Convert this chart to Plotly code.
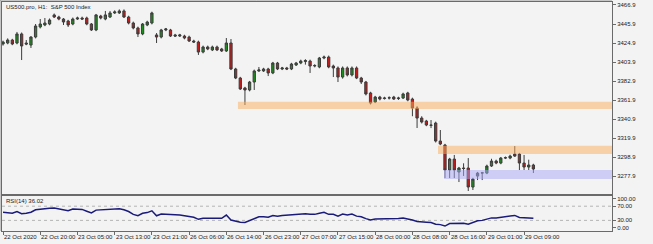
import plotly.graph_objects as go

title_text = "US500.pro, H1:  S&P 500 Index"
rsi_label = "RSI(14) 36.02"

opens = [3423.8, 3424.9, 3428.2, 3424.9, 3434.9, 3424.9, 3422.7, 3431.5, 3442.6, 3444.8,
         3445.9, 3455.9, 3453.6, 3451.4, 3449.2, 3445.9, 3451.4, 3452.5, 3452.5, 3445.9,
         3439.3, 3454.7, 3451.4, 3453.6, 3458.1, 3458.1, 3460.3, 3453.6, 3447.0, 3441.5,
         3434.9, 3444.8, 3447.0, 3433.8, 3431.5, 3439.3, 3439.3, 3433.8, 3432.6, 3432.6,
         3431.5, 3427.1, 3426.0, 3414.9, 3420.5, 3417.2, 3420.5, 3418.3, 3416.1, 3424.9,
         3396.2, 3386.2, 3375.2, 3373.0, 3381.8, 3394.0, 3394.0, 3396.2, 3391.8, 3402.8,
         3396.2, 3397.3, 3396.2, 3400.6, 3402.8, 3404.4, 3405.0, 3399.5, 3398.4, 3408.3,
         3409.4, 3399.5, 3397.3, 3387.3, 3397.3, 3389.6, 3397.3, 3386.2, 3381.8, 3369.7,
         3359.7, 3365.2, 3363.5, 3364.1, 3365.2, 3363.5, 3364.1, 3369.7, 3363.0, 3353.1,
         3342.0, 3338.7, 3334.3, 3336.5, 3316.6, 3312.2, 3284.6, 3296.7, 3282.4, 3286.8,
         3286.8, 3265.8, 3277.9, 3281.2, 3281.2, 3289.0, 3294.5, 3292.3, 3297.8, 3297.8,
         3302.2, 3302.2, 3292.3, 3287.9, 3290.1]
highs = [3427.5, 3430.0, 3429.5, 3437.1, 3436.5, 3428.2, 3432.5, 3445.9, 3451.4, 3452.5,
         3452.0, 3457.5, 3455.0, 3452.5, 3450.5, 3453.0, 3454.0, 3454.0, 3454.0, 3447.0,
         3457.0, 3456.0, 3460.3, 3460.3, 3461.0, 3462.0, 3462.0, 3455.0, 3448.5, 3443.0,
         3447.0, 3449.5, 3459.5, 3435.9, 3440.5, 3441.5, 3440.5, 3435.0, 3435.0, 3434.0,
         3433.0, 3428.5, 3427.5, 3422.0, 3422.0, 3422.0, 3422.0, 3419.5, 3430.4, 3429.3,
         3397.5, 3387.5, 3376.5, 3383.0, 3395.5, 3398.4, 3397.5, 3397.5, 3404.0, 3404.0,
         3398.5, 3398.5, 3403.0, 3404.0, 3406.5, 3407.0, 3406.5, 3401.5, 3409.5, 3411.0,
         3411.0, 3401.0, 3399.0, 3399.0, 3399.0, 3399.0, 3399.0, 3387.5, 3383.0, 3371.0,
         3366.5, 3366.5, 3365.5, 3366.0, 3366.5, 3365.5, 3370.0, 3371.0, 3364.5, 3355.0,
         3344.0, 3340.0, 3339.8, 3338.0, 3328.8, 3313.5, 3298.0, 3301.2, 3288.0, 3292.0,
         3297.8, 3276.0, 3282.5, 3282.5, 3290.5, 3297.0, 3296.0, 3299.0, 3299.5, 3301.5,
         3311.1, 3303.5, 3301.2, 3296.0, 3291.5]
lows = [3422.0, 3423.5, 3422.5, 3423.5, 3406.1, 3422.5, 3419.4, 3430.0, 3441.0, 3443.5,
        3444.5, 3452.5, 3450.0, 3444.8, 3442.6, 3444.5, 3450.5, 3450.5, 3444.5, 3438.2,
        3438.0, 3451.0, 3450.0, 3452.5, 3457.0, 3457.0, 3452.5, 3445.5, 3440.0, 3431.5,
        3433.5, 3443.5, 3445.5, 3424.9, 3430.0, 3438.0, 3431.5, 3431.5, 3431.5, 3429.0,
        3426.0, 3425.0, 3411.7, 3413.5, 3417.0, 3416.0, 3416.0, 3415.0, 3415.0, 3395.0,
        3385.0, 3373.0, 3356.4, 3371.5, 3373.0, 3393.0, 3393.0, 3388.4, 3390.5, 3395.0,
        3395.0, 3395.0, 3395.0, 3399.5, 3401.5, 3401.0, 3391.8, 3398.0, 3397.0, 3407.0,
        3397.0, 3387.3, 3381.8, 3385.5, 3388.0, 3388.0, 3385.0, 3379.6, 3367.0, 3357.0,
        3358.5, 3361.5, 3362.5, 3362.5, 3362.0, 3362.0, 3363.0, 3360.5, 3344.0, 3331.0,
        3336.0, 3333.0, 3330.9, 3315.0, 3312.0, 3275.7, 3275.7, 3275.7, 3271.3, 3278.0,
        3261.4, 3262.5, 3273.5, 3273.5, 3280.0, 3288.0, 3291.0, 3291.0, 3296.7, 3296.5,
        3299.0, 3284.6, 3284.6, 3284.6, 3281.3]
closes = [3426.0, 3428.2, 3423.8, 3434.9, 3421.6, 3423.8, 3431.5, 3443.7, 3445.9, 3447.0,
          3450.3, 3453.6, 3451.4, 3448.1, 3444.8, 3451.4, 3452.5, 3451.4, 3445.9, 3439.3,
          3455.9, 3452.5, 3455.9, 3458.1, 3459.2, 3460.3, 3453.6, 3447.0, 3441.5, 3434.9,
          3445.9, 3448.1, 3458.1, 3431.5, 3439.3, 3440.4, 3432.6, 3432.6, 3433.8, 3430.4,
          3427.1, 3426.0, 3414.9, 3420.5, 3418.3, 3420.5, 3417.2, 3416.1, 3424.9, 3396.2,
          3386.2, 3374.1, 3373.0, 3381.8, 3394.0, 3395.1, 3396.2, 3391.8, 3402.8, 3396.2,
          3397.3, 3396.2, 3401.7, 3402.8, 3405.0, 3405.5, 3399.5, 3400.0, 3408.3, 3409.4,
          3398.4, 3397.3, 3387.3, 3397.3, 3389.6, 3397.3, 3386.2, 3381.8, 3368.6, 3358.6,
          3365.2, 3363.0, 3364.1, 3364.4, 3363.0, 3364.1, 3368.6, 3361.9, 3353.1, 3342.0,
          3337.6, 3334.3, 3334.0, 3316.6, 3313.3, 3284.6, 3296.7, 3284.6, 3286.8, 3286.3,
          3265.8, 3274.6, 3281.2, 3281.5, 3289.0, 3294.5, 3292.3, 3297.8, 3298.2, 3300.0,
          3300.0, 3292.3, 3287.9, 3290.1, 3285.7]
rsi = [53, 52, 50, 55, 49, 50, 53, 60, 62, 63,
       64, 65, 63, 60, 57, 62, 62, 61, 56, 51,
       59, 60, 61, 63, 63, 63, 60, 55, 47, 43,
       50, 52, 57, 43, 48, 48, 46, 46, 45, 43,
       42, 39, 33, 36, 36, 37, 36, 36, 45, 31,
       27, 25, 24, 30, 36, 40, 40, 39, 44, 42,
       44, 45, 46, 47, 48, 49, 47, 47, 50, 53,
       47, 47, 42, 48, 45, 48, 42, 40, 35, 31,
       34, 34, 34, 35, 35, 35, 37, 35, 31, 27,
       25, 25, 24, 19, 18, 14, 21, 21, 22, 22,
       19, 25, 29, 30, 34, 37, 37, 39, 42, 44,
       44, 38, 37, 37, 36.02]

x_tick_idx = [0, 8, 16, 24, 32, 40, 48, 56, 64, 72, 80, 88, 96, 104, 112]
x_tick_labels = ["22 Oct 2020", "22 Oct 20:00", "23 Oct 05:00", "23 Oct 13:00", "23 Oct 21:00",
                 "26 Oct 06:00", "26 Oct 14:00", "26 Oct 23:00", "27 Oct 07:00", "27 Oct 15:00",
                 "28 Oct 00:00", "28 Oct 08:00", "28 Oct 16:00", "29 Oct 01:00", "29 Oct 09:00"]
price_ticks = [3466.9, 3445.9, 3424.9, 3403.9, 3382.9, 3361.9, 3340.9, 3319.9, 3298.9, 3277.9]
rsi_tick_pos = [91, 70, 30, 9]
rsi_tick_labels = ["100.00", "70.00", "30.00", "0.00"]
rsi_levels = [70, 30]

zone_start = [50.5, 93.5, 94.8]
zone_top = [3360.0, 3311.4, 3284.6]
zone_bottom = [3352.0, 3302.2, 3274.6]
zone_color = ["rgba(253,173,93,0.5)", "rgba(253,173,93,0.5)", "rgba(167,167,247,0.5)"]

x_range = [-0.22, 130.9]
price_range = [3258.1, 3470.2]

idx = list(range(len(closes)))
FONT = "Liberation Sans"
BORDER = "#6a6a6a"

fig = go.Figure()
fig.add_trace(go.Candlestick(
    x=idx, open=opens, high=highs, low=lows, close=closes,
    increasing=dict(fillcolor="#1f8c1f", line=dict(color="#3c3c3c", width=1)),
    decreasing=dict(fillcolor="#c01c1c", line=dict(color="#3c3c3c", width=1)),
    whiskerwidth=0, xaxis="x", yaxis="y", showlegend=False))
fig.add_trace(go.Scatter(
    x=idx, y=rsi, mode="lines", line=dict(color="#1a1a7a", width=1.5),
    xaxis="x2", yaxis="y2", showlegend=False))

shapes = []
for s, t, b, c in zip(zone_start, zone_top, zone_bottom, zone_color):
    shapes.append(dict(type="rect", xref="x", yref="y", x0=s, x1=x_range[1], y0=b, y1=t,
                       fillcolor=c, line=dict(width=0), layer="above"))
for lv in rsi_levels:
    shapes.append(dict(type="line", xref="x2 domain", yref="y2", x0=0, x1=1, y0=lv, y1=lv,
                       line=dict(color="#b4b4b4", width=1, dash="dot"), layer="below"))
# outer frame lines
shapes.append(dict(type="line", xref="paper", yref="paper", x0=-2 / 610, x1=-2 / 610, y0=0, y1=1 + 2 / 229,
                   line=dict(color="#9a9a9a", width=1)))
shapes.append(dict(type="line", xref="paper", yref="paper", x0=-2 / 610, x1=1, y0=1 + 2 / 229, y1=1 + 2 / 229,
                   line=dict(color="#9a9a9a", width=1)))

annotations = [
    dict(text=title_text, xref="paper", yref="paper", x=2 / 610, y=0.978, xanchor="left", yanchor="middle",
         showarrow=False, font=dict(family=FONT, size=6, color="#1a1a1a")),
    dict(text=rsi_label, xref="paper", yref="paper", x=2 / 610, y=0.131, xanchor="left", yanchor="middle",
         showarrow=False, font=dict(family=FONT, size=6, color="#1a1a1a")),
]
for ti, tl in zip(x_tick_idx, x_tick_labels):
    annotations.append(dict(text=tl, xref="x2", yref="paper", x=ti, y=0, xanchor="left", yanchor="top",
                            yshift=-1, xshift=-1, showarrow=False,
                            font=dict(family=FONT, size=6, color="#1a1a1a")))

fig.update_layout(
    width=653, height=244,
    margin=dict(l=2, r=41, t=2, b=13),
    paper_bgcolor="#f3f3f3", plot_bgcolor="#f3f3f3",
    font=dict(family=FONT, size=6, color="#1a1a1a"),
    boxgap=0.3,
    xaxis=dict(domain=[0, 1], anchor="y", range=x_range, rangeslider=dict(visible=False),
               showgrid=False, zeroline=False, showticklabels=False, ticks="",
               showline=True, mirror=True, linecolor=BORDER, linewidth=1),
    yaxis=dict(domain=[0.1616, 1], anchor="x", side="right", range=price_range,
               tickvals=price_ticks, ticktext=[f"{v:.1f}" for v in price_ticks],
               ticks="outside", ticklen=3, tickcolor=BORDER, showgrid=False, zeroline=False,
               showline=True, mirror=True, linecolor=BORDER, linewidth=1,
               tickfont=dict(family=FONT, size=6, color="#1a1a1a")),
    xaxis2=dict(domain=[0, 1], anchor="y2", range=x_range, matches="x",
                showgrid=False, zeroline=False, showticklabels=False,
                tickvals=x_tick_idx, ticks="outside", ticklen=3, tickcolor=BORDER,
                showline=True, mirror=True, linecolor=BORDER, linewidth=1),
    yaxis2=dict(domain=[0, 0.1546], anchor="x2", side="right", range=[0, 100],
                tickvals=rsi_tick_pos, ticktext=rsi_tick_labels,
                ticks="outside", ticklen=3, tickcolor=BORDER, showgrid=False, zeroline=False,
                showline=True, mirror=True, linecolor=BORDER, linewidth=1,
                tickfont=dict(family=FONT, size=6, color="#1a1a1a")),
    shapes=shapes,
    annotations=annotations,
    hovermode=False,
)

fig.write_html("out.html")
